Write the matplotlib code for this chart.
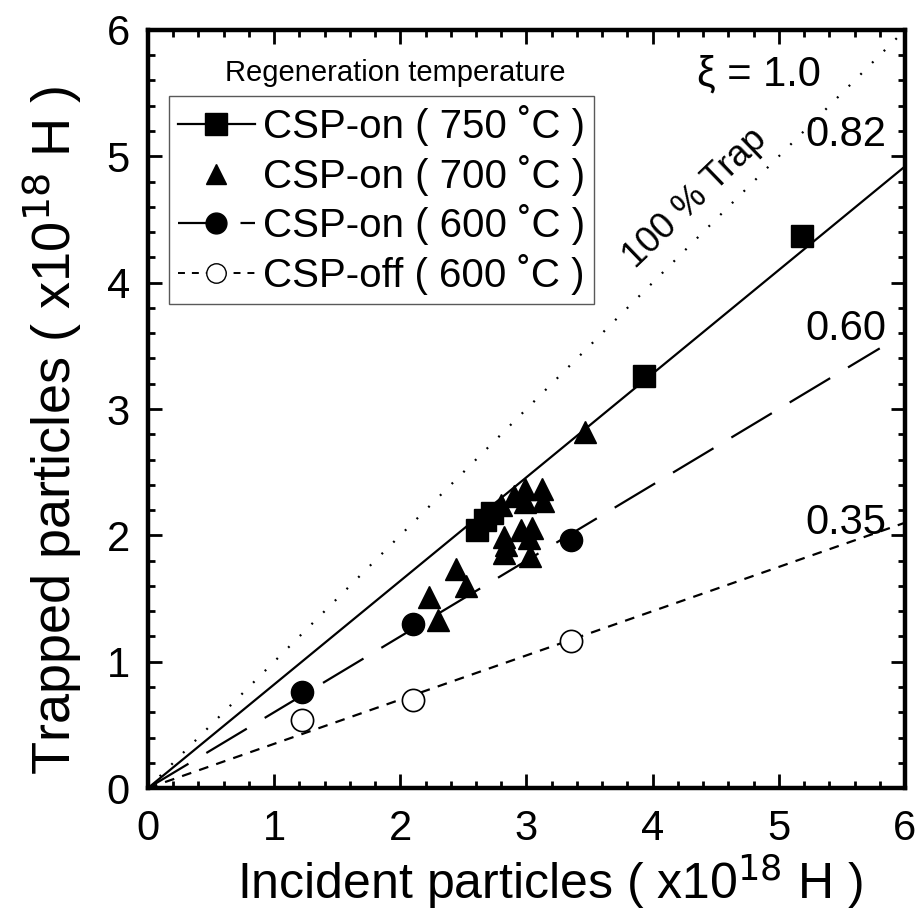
import matplotlib
matplotlib.use("Agg")
import matplotlib.pyplot as plt
import numpy as np
from matplotlib.lines import Line2D
from matplotlib.ticker import MultipleLocator

plt.rcParams['font.family'] = ['Liberation Sans', 'DejaVu Sans']
plt.rcParams['lines.scale_dashes'] = False

# data (x10^18 H)
sq_x = [2.61, 2.67, 2.73, 3.93, 5.18]
sq_y = [2.04, 2.12, 2.18, 3.26, 4.37]

tri_x = [2.30, 2.23, 2.44, 2.52, 2.82, 2.84, 2.82, 2.96, 3.04, 3.02, 3.03,
         2.90, 2.99, 3.12, 2.99, 3.13, 2.80, 3.46]
tri_y = [1.33, 1.51, 1.73, 1.60, 1.86, 1.92, 1.99, 2.04, 2.06, 1.98, 1.84,
         2.31, 2.37, 2.37, 2.26, 2.27, 2.24, 2.82]

circ_x = [1.22, 2.10, 3.35]
circ_y = [0.76, 1.30, 1.96]

open_x = [1.22, 2.10, 3.35]
open_y = [0.54, 0.70, 1.16]

xi_vals = [1.0, 0.82, 0.60, 0.35]
xi_end = [6.0, 6.0, 5.8, 6.0]

fig = plt.figure(figsize=(9.21, 9.19), dpi=100)
ax = fig.add_axes([0.1607, 0.1425, 0.8219, 0.8249])

dot_style = dict(color='black', lw=1.6, dashes=(1.4, 10.5))
solid_style = dict(color='black', lw=1.6, linestyle='-')
long_style = dict(color='black', lw=1.6, dashes=(34, 15))
short_style = dict(color='black', lw=1.6, dashes=(7, 6))
styles = [dot_style, solid_style, long_style, short_style]

for xi, xe, st in zip(xi_vals, xi_end, styles):
    xx = np.array([0, xe])
    ax.plot(xx, xi * xx, **st)

ax.plot(sq_x, sq_y, 's', color='black', ms=16, ls='none', zorder=5)
ax.plot(tri_x, tri_y, '^', color='black', ms=16, ls='none', zorder=5)
ax.plot(circ_x, circ_y, 'o', color='black', ms=16, ls='none', zorder=5)
ax.plot(open_x, open_y, 'o', mfc='white', mec='black', mew=1.2, ms=16,
        ls='none', zorder=5)

ax.set_xlim(0, 6)
ax.set_ylim(0, 6)
ax.xaxis.set_major_locator(MultipleLocator(1))
ax.yaxis.set_major_locator(MultipleLocator(1))
ax.xaxis.set_minor_locator(MultipleLocator(0.2))
ax.yaxis.set_minor_locator(MultipleLocator(0.2))
ax.tick_params(which='both', direction='in', top=True, right=True, width=2)
ax.tick_params(which='major', length=10, labelsize=30)
ax.tick_params(axis='x', which='major', pad=15)
ax.tick_params(axis='y', which='major', pad=13)
ax.tick_params(which='minor', length=5)
for sp in ax.spines.values():
    sp.set_linewidth(3.2)

ax.set_xlabel('Incident particles ( x10$^{18}$ H )', fontsize=36, labelpad=2)
ax.set_ylabel('Trapped particles ( x10$^{18}$ H )', fontsize=39, labelpad=16)
ax.xaxis.label.set_x(0.531)
ax.yaxis.label.set_y(0.472)

ax.text(4.84, 5.65, 'ξ = 1.0', fontsize=30, ha='center', va='center')
ax.text(5.53, 5.17, '0.82', fontsize=30, ha='center', va='center')
ax.text(5.53, 3.63, '0.60', fontsize=30, ha='center', va='center')
ax.text(5.53, 2.10, '0.35', fontsize=30, ha='center', va='center')
ax.text(4.34, 4.67, '100 % Trap', fontsize=26, ha='center', va='center',
        rotation=44)

handles = [
    Line2D([], [], marker='s', color='black', ms=16, lw=1.6, ls='-'),
    Line2D([], [], marker='^', color='black', ms=14, ls='none'),
    Line2D([], [], marker='o', color='black', ms=15, lw=1.6, dashes=(30, 15)),
    Line2D([], [], marker='o', color='black', mfc='white', mew=1.0, ms=14,
           lw=1.4, dashes=(5, 5)),
]
labels = ['CSP-on ( 750 ˚C )', 'CSP-on ( 700 ˚C )', 'CSP-on ( 600 ˚C )',
          'CSP-off ( 600 ˚C )']
leg = ax.legend(handles, labels, loc='upper left', bbox_to_anchor=(0.028, 0.913),
                fontsize=29, frameon=True, fancybox=False, edgecolor='0.35',
                framealpha=1, handlelength=1.9, handletextpad=0.2,
                labelspacing=0.22, borderpad=0.22, borderaxespad=0)
leg.get_frame().set_linewidth(1.0)
ax.text(0.326, 0.943, 'Regeneration temperature', transform=ax.transAxes,
        fontsize=21, ha='center', va='center')

fig.savefig('out.png', dpi=100)
